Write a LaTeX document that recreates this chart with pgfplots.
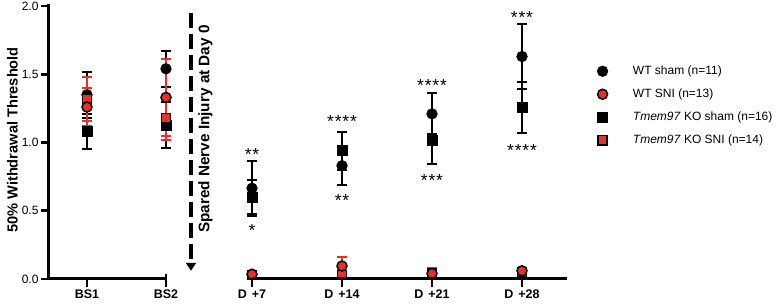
\documentclass[border=0pt]{standalone}
\usepackage{fontspec}
\setmainfont{Liberation Sans}
\usepackage{pgfplots}
\pgfplotsset{compat=1.18}
\usetikzlibrary{arrows.meta}
\definecolor{snired}{RGB}{232,48,40}
\begin{document}
\begin{tikzpicture}
\useasboundingbox (0,0) rectangle (777pt,304pt);
\begin{axis}[
  at={(48pt,25pt)}, anchor=south west,
  scale only axis, width=519pt, height=273pt,
  xmin=48, xmax=567, ymin=0, ymax=2,
  clip=false,
  axis y line*=left, axis x line*=bottom,
  axis line style={draw=none},
  separate axis lines,
  x axis line style={draw=none}, y axis line style={draw=none},
  xtick={87,166,252,342,432,522},
  xticklabels={BS1,BS2,D\hspace{5pt}+7,D\hspace{5pt}+14,D\hspace{5pt}+21,D\hspace{5pt}+28},
  ytick={0,0.5,1,1.5,2},
  yticklabel style={font=\fontsize{12}{14}\selectfont, /pgf/number format/fixed, /pgf/number format/fixed zerofill, /pgf/number format/precision=1, /pgf/number format/assume math mode=true},
  xticklabel style={font=\bfseries\fontsize{12.5}{15}\selectfont, yshift=-1.5pt},
  tick align=outside, major tick length=6pt,
  tick style={draw=none},
  legend style={at={(1.052,0.795)}, anchor=north west, draw=none, fill=none,
     font=\fontsize{12}{14}\selectfont, row sep=8.8pt, column sep=23pt},
  legend cell align=left,
  error bars/y dir=both, error bars/y explicit,
]
\addlegendimage{only marks, mark=*, mark size=5.4pt, black}
\addlegendentry{WT sham (n=11)}
\addlegendimage{only marks, mark=*, mark size=5pt, mark options={fill=snired, draw=black, line width=1.5pt}}
\addlegendentry{WT SNI (n=13)}
\addlegendimage{only marks, mark=square*, mark size=5pt, black}
\addlegendentry{\textit{Tmem97} KO sham (n=16)}
\addlegendimage{only marks, mark=square*, mark size=4.6pt, mark options={fill=snired, draw=black, line width=1.5pt}}
\addlegendentry{\textit{Tmem97} KO SNI (n=14)}

% KO sham
\addplot[forget plot, only marks, mark=square*, mark size=5pt, black,
  error bars/error bar style={line width=2pt, black},
  error bars/error mark options={rotate=90, line width=2pt, mark size=4.8pt, black}]
coordinates {
(87,1.08) +- (0,0.13)
(166,1.13) +- (0,0.17)
(252,0.60) +- (0,0.125)
(342,0.94) +- (0,0.14)
(432,1.02) +- (0,0.18)
(522,1.255) +- (0,0.185)
};
% WT sham
\addplot[forget plot, only marks, mark=*, mark size=5.4pt, black,
  error bars/error bar style={line width=2pt, black},
  error bars/error mark options={rotate=90, line width=2pt, mark size=4.8pt, black}]
coordinates {
(87,1.35) +- (0,0.17)
(166,1.54) +- (0,0.13)
(252,0.665) +- (0,0.2)
(342,0.83) +- (0,0.145)
(432,1.21) +- (0,0.15)
(522,1.63) +- (0,0.235)
};
% KO SNI
\addplot[forget plot, only marks, mark=square*, mark size=4.6pt,
  mark options={fill=snired, draw=black, line width=1.5pt},
  error bars/error bar style={line width=2pt, snired},
  error bars/error mark options={rotate=90, line width=2pt, mark size=4.8pt, snired}]
coordinates {
(87,1.32) +- (0,0.16)
(166,1.18) +- (0,0.16)
(252,0.03) +- (0,0.01)
(342,0.03) +- (0,0.03)
(432,0.04) +- (0,0.02)
(522,0.05) +- (0,0.01)
};
% WT SNI
\addplot[forget plot, only marks, mark=*, mark size=5pt,
  mark options={fill=snired, draw=black, line width=1.5pt},
  error bars/error bar style={line width=2pt, snired},
  error bars/error mark options={rotate=90, line width=2pt, mark size=4.8pt, snired}]
coordinates {
(87,1.26) +- (0,0.14)
(166,1.33) +- (0,0.28)
(252,0.035) +- (0,0.01)
(342,0.095) +- (0,0.065)
(432,0.04) +- (0,0.04)
(522,0.06) +- (0,0.01)
};

% significance stars
\tikzset{stars/.style={font=\fontsize{17.5}{17.5}\selectfont, inner sep=0pt, yshift=-3.4pt}}
\node[stars] at (axis cs:252,0.94) {*\kern0.8pt*};
\node[stars] at (axis cs:252,0.38) {*};
\node[stars] at (axis cs:342,1.18) {*\kern0.8pt*\kern0.8pt*\kern0.8pt*};
\node[stars] at (axis cs:342,0.60) {*\kern0.8pt*};
\node[stars] at (axis cs:432,1.44) {*\kern0.8pt*\kern0.8pt*\kern0.8pt*};
\node[stars] at (axis cs:432,0.75) {*\kern0.8pt*\kern0.8pt*};
\node[stars] at (axis cs:522,1.94) {*\kern0.8pt*\kern0.8pt*};
\node[stars] at (axis cs:522,0.97) {*\kern0.8pt*\kern0.8pt*\kern0.8pt*};

% injury arrow
\draw[line width=4pt, dash pattern=on 15pt off 6pt, -{Triangle[width=10pt,length=8pt]}]
  (axis cs:191,1.95) -- (axis cs:191,0.06);
\end{axis}
% axis lines (y axis, broken x axis) and ticks
\draw[line width=3pt, line cap=rect] (48pt,298pt) -- (48pt,25pt);
\draw[line width=3pt] (48pt,25pt) -- (166pt,25pt);
\draw[line width=3pt] (252pt,25pt) -- (567pt,25pt);
\draw[line width=2.6pt] (166pt,30pt) -- (166pt,17pt);
\draw[line width=2.6pt] (48pt,25pt) -- (41pt,25pt);
\draw[line width=2.6pt] (48pt,93.25pt) -- (41pt,93.25pt);
\draw[line width=2.6pt] (48pt,161.5pt) -- (41pt,161.5pt);
\draw[line width=2.6pt] (48pt,229.75pt) -- (41pt,229.75pt);
\draw[line width=2.6pt] (48pt,298pt) -- (41pt,298pt);
\draw[line width=2.6pt] (87pt,25pt) -- (87pt,17pt);
\draw[line width=2.6pt] (252pt,25pt) -- (252pt,17pt);
\draw[line width=2.6pt] (342pt,25pt) -- (342pt,17pt);
\draw[line width=2.6pt] (432pt,25pt) -- (432pt,17pt);
\draw[line width=2.6pt] (522pt,25pt) -- (522pt,17pt);
\node[rotate=90, font=\bfseries\fontsize{15.3}{17}\selectfont] at (205.5pt,175pt) {Spared Nerve Injury at Day 0};
\node[rotate=90, font=\bfseries\fontsize{14.6}{17}\selectfont] at (12.5pt,164pt) {50\% Withdrawal Threshold};
\end{tikzpicture}
\end{document}
